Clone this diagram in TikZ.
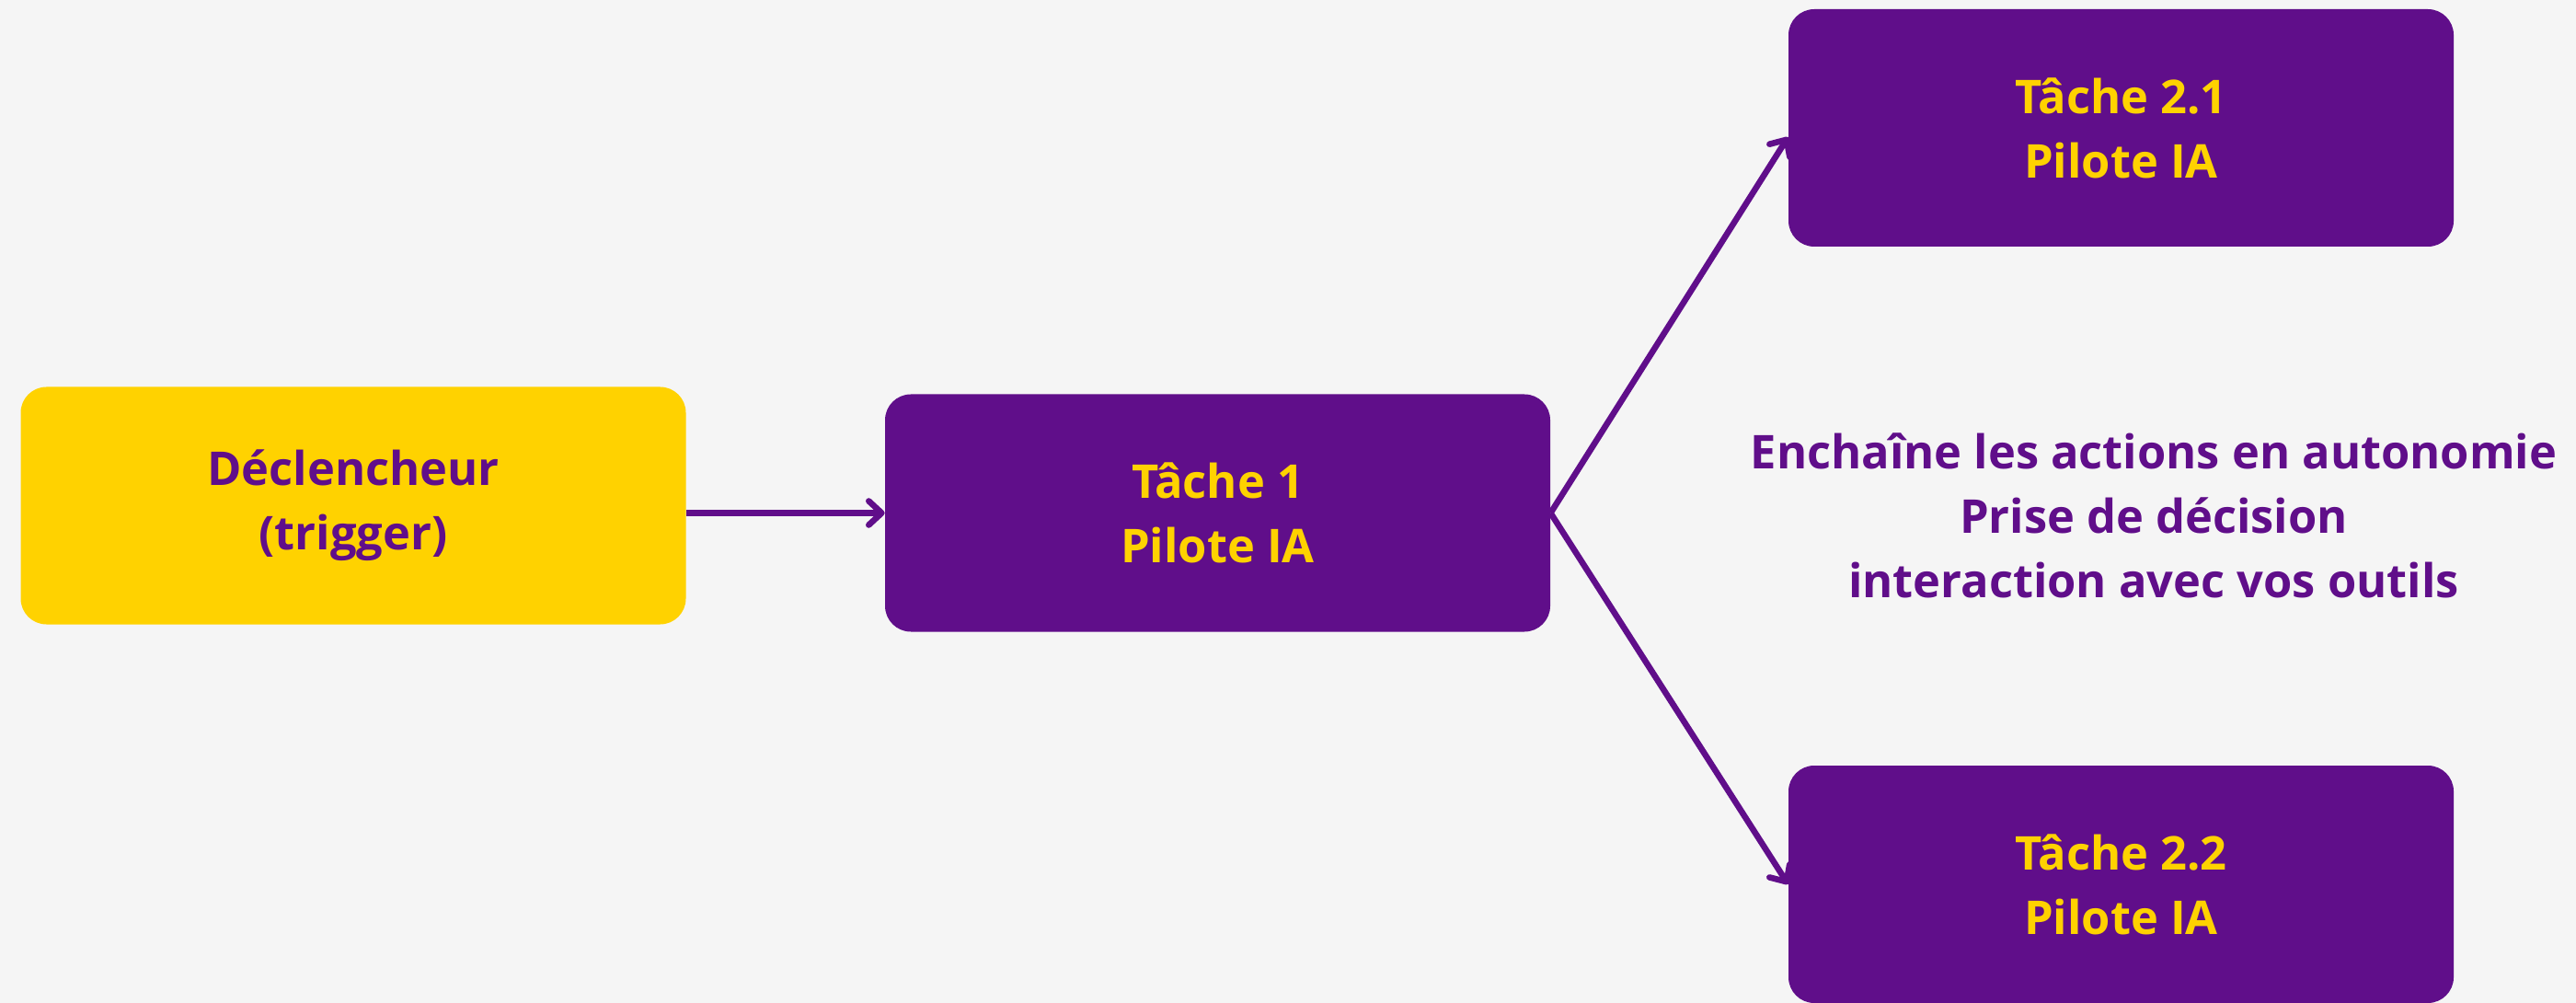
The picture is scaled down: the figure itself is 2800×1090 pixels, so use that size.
\documentclass[tikz,border=0pt]{standalone}
\usepackage{fontspec}
\setmainfont{Open Sans}
\usetikzlibrary{arrows.meta}
\definecolor{cpurple}{HTML}{600E8A}
\definecolor{cyellow}{HTML}{FFD200}
\definecolor{cbg}{HTML}{F5F5F5}
\begin{document}
\begin{tikzpicture}[x=0.5pt,y=-0.5pt,
  box/.style={rectangle, rounded corners=14pt, minimum width=361.5pt, minimum height=129pt,
    inner sep=0pt, align=center, font=\bfseries\fontsize{25.3}{35}\selectfont},
  task/.style={box, fill=cpurple, text=cyellow},
  trig/.style={box, fill=cyellow, text=cpurple},
  conn/.style={draw=cpurple, line width=3.3pt,
    -{Straight Barb[length=7pt,width=13pt,line cap=round,line join=round]}},
  desc/.style={align=center, text=cpurple, inner sep=0pt, font=\bfseries\fontsize{25.3}{35}\selectfont}
]
\fill[cbg] (0,0) rectangle (2800,1090);
\useasboundingbox (0,0) rectangle (2800,1090);

\node[trig] (trigger) at (384,549.5) {Déclencheur\\(trigger)};
\node[task] (t1) at (1323.5,557.5) {Tâche 1\\Pilote IA};
\node[task] (t21) at (2305.5,139) {Tâche 2.1\\Pilote IA};
\node[task] (t22) at (2305.5,961) {Tâche 2.2\\Pilote IA};
\node[desc] (txt) at (2341,560) {Enchaîne les actions en autonomie\\Prise de décision\\interaction avec vos outils};

\draw[conn] (trigger.east |- t1.west) -- (t1.west);
\draw[conn] (t1.east) -- ([yshift=-5pt]t21.west);
\draw[conn] (t1.east) -- (t22.west);
\end{tikzpicture}
\end{document}
